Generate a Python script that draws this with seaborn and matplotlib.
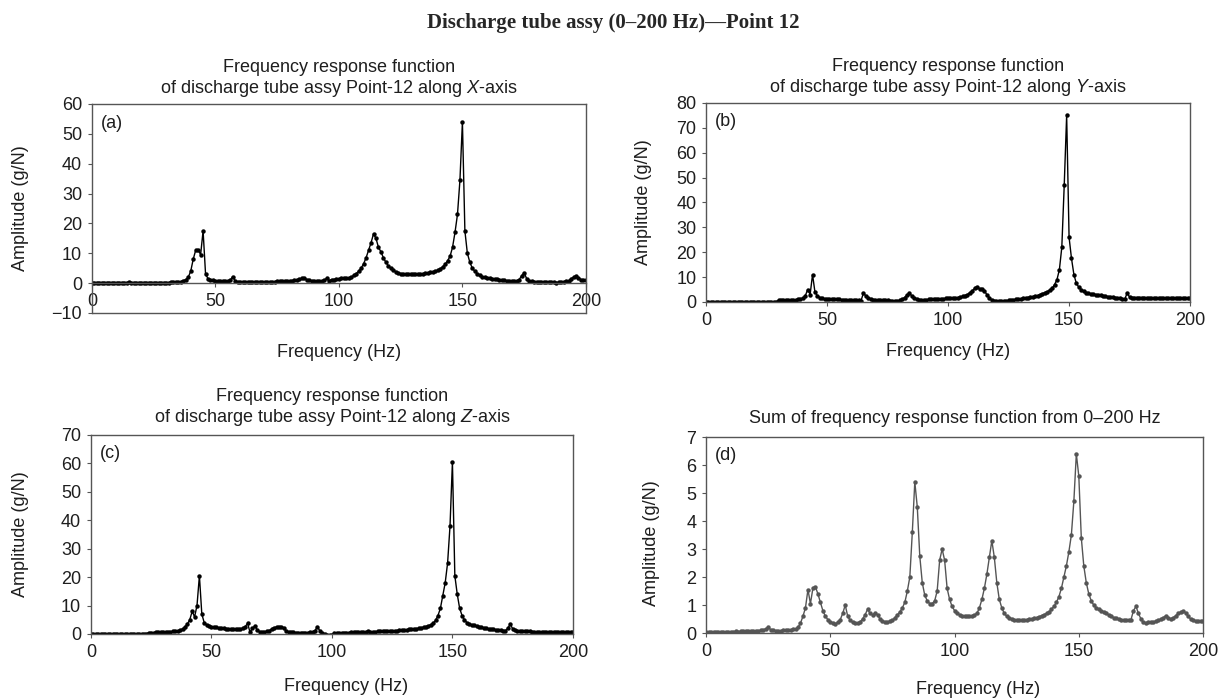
import numpy as np
import matplotlib
matplotlib.use("Agg")
import matplotlib.pyplot as plt
import seaborn as sns

# frequency axis (Hz), 1 Hz steps
freq = list(range(0, 201))

# (a) X-axis response, g/N
amp_x = [
    0.2, 0.2, 0.2, 0.2, 0.2, 0.2, 0.2, 0.2, 0.2, 0.2,
    0.2, 0.2, 0.2, 0.2, 0.2, 0.3, 0.2, 0.2, 0.2, 0.2,
    0.2, 0.2, 0.2, 0.2, 0.2, 0.2, 0.2, 0.2, 0.2, 0.2,
    0.2, 0.2, 0.3, 0.3, 0.3, 0.4, 0.5, 0.8, 1.2, 2.0,
    4.0, 8.0, 11.0, 11.2, 9.5, 17.5, 3.0, 1.5, 1.2, 1.0,
    0.8, 0.6, 0.6, 0.6, 0.6, 0.6, 1.0, 2.2, 0.8, 0.4,
    0.3, 0.3, 0.3, 0.3, 0.3, 0.4, 0.5, 0.5, 0.5, 0.4,
    0.3, 0.3, 0.4, 0.5, 0.5, 0.6, 0.6, 0.7, 0.7, 0.8,
    0.8, 0.8, 0.9, 1.0, 1.3, 1.6, 1.8, 1.2, 0.9, 0.8,
    0.8, 0.8, 0.8, 0.8, 0.9, 1.6, 0.8, 1.2, 1.2, 1.3,
    1.4, 1.6, 1.6, 1.7, 1.8, 2.0, 2.6, 3.2, 4.0, 5.0,
    6.5, 8.5, 11.0, 13.5, 16.5, 15.0, 12.0, 10.5, 8.5, 7.0,
    5.8, 5.0, 4.3, 3.8, 3.5, 3.2, 3.1, 3.0, 3.0, 3.0,
    3.0, 3.0, 3.1, 3.1, 3.2, 3.3, 3.4, 3.6, 3.8, 4.0,
    4.3, 4.8, 5.5, 6.3, 7.5, 9.0, 12.0, 17.0, 23.0, 34.5,
    54.0, 17.5, 10.0, 7.0, 5.0, 4.0, 3.2, 2.6, 2.2, 2.0,
    1.8, 1.7, 1.5, 1.4, 1.3, 1.2, 1.0, 0.9, 0.8, 0.7,
    0.6, 0.6, 0.7, 1.2, 2.5, 3.5, 1.5, 0.8, 0.6, 0.5,
    0.5, 0.4, 0.4, 0.4, 0.3, 0.3, 0.3, 0.3, 0.2, 0.3,
    0.4, 0.5, 0.6, 0.8, 1.5, 2.0, 2.3, 1.8, 1.2, 1.0,
    0.9,
]

# (b) Y-axis response, g/N
amp_y = [
    0.1, 0.1, 0.1, 0.1, 0.1, 0.1, 0.1, 0.1, 0.1, 0.1,
    0.1, 0.1, 0.1, 0.1, 0.1, 0.1, 0.1, 0.1, 0.1, 0.1,
    0.1, 0.1, 0.1, 0.1, 0.1, 0.1, 0.1, 0.1, 0.1, 0.1,
    0.8, 0.8, 0.8, 0.8, 0.8, 0.8, 0.9, 0.9, 1.0, 1.2,
    1.5, 2.5, 5.0, 3.0, 11.0, 4.0, 2.5, 1.8, 1.4, 1.2,
    1.2, 1.2, 1.2, 1.2, 1.2, 1.1, 0.9, 0.8, 0.8, 0.8,
    0.8, 0.8, 0.8, 0.6, 0.4, 3.5, 2.5, 1.8, 1.0, 0.7,
    0.6, 0.6, 0.6, 0.6, 0.6, 0.6, 0.5, 0.5, 0.4, 0.2,
    0.6, 1.0, 1.8, 2.8, 3.5, 2.5, 1.5, 1.0, 0.9, 0.9,
    0.9, 0.9, 1.0, 1.1, 1.2, 1.3, 1.3, 1.3, 1.3, 1.4,
    1.4, 1.6, 1.6, 1.7, 1.8, 2.0, 2.3, 2.6, 3.0, 3.8,
    4.5, 5.5, 6.2, 5.2, 5.4, 4.5, 3.0, 1.8, 0.8, 0.3,
    0.3, 0.3, 0.3, 0.4, 0.5, 0.6, 0.8, 0.9, 1.0, 1.2,
    1.3, 1.4, 1.6, 1.8, 2.0, 2.2, 2.4, 2.6, 3.0, 3.4,
    3.8, 4.2, 4.8, 5.5, 7.0, 9.0, 13.0, 22.0, 47.0, 75.0,
    26.0, 17.5, 11.0, 7.5, 6.0, 5.0, 4.3, 3.8, 3.5, 3.3,
    3.1, 3.0, 2.8, 2.7, 2.5, 2.3, 2.2, 2.0, 1.9, 1.8,
    1.6, 1.4, 1.3, 1.2, 3.5, 2.0, 1.8, 1.8, 1.8, 1.8,
    1.8, 1.8, 1.7, 1.5, 1.5, 1.5, 1.5, 1.5, 1.5, 1.5,
    1.5, 1.5, 1.5, 1.5, 1.5, 1.5, 1.5, 1.5, 1.5, 1.5,
    1.5,
]

# (c) Z-axis response, g/N
amp_z = [
    0.1, 0.1, 0.1, 0.1, 0.1, 0.1, 0.1, 0.1, 0.1, 0.1,
    0.1, 0.1, 0.1, 0.1, 0.1, 0.1, 0.1, 0.1, 0.1, 0.1,
    0.1, 0.1, 0.1, 0.1, 0.5, 0.5, 0.5, 0.6, 0.6, 0.6,
    0.7, 0.7, 0.8, 0.8, 0.9, 1.0, 1.1, 1.3, 1.8, 2.5,
    3.5, 5.0, 8.0, 6.0, 10.0, 20.5, 7.0, 4.0, 3.2, 2.8,
    2.6, 2.4, 2.3, 2.2, 2.1, 2.0, 1.8, 1.7, 1.7, 1.6,
    1.6, 1.7, 1.8, 2.0, 2.5, 3.8, 0.6, 2.0, 2.8, 1.5,
    0.8, 0.8, 0.8, 0.9, 1.2, 1.8, 2.2, 2.5, 2.6, 2.6,
    2.2, 1.0, 0.6, 0.6, 0.6, 0.5, 0.5, 0.5, 0.5, 0.5,
    0.5, 0.6, 0.8, 1.2, 2.6, 1.0, 0.3, 0.1, -0.3, -0.3,
    -0.2, 0.2, 0.3, 0.4, 0.4, 0.5, 0.5, 0.5, 0.6, 0.6,
    0.6, 0.7, 0.7, 0.8, 0.8, 0.9, 0.8, 0.8, 0.8, 0.9,
    0.9, 1.0, 0.9, 0.9, 1.0, 1.0, 1.1, 1.2, 1.3, 1.4,
    1.5, 1.5, 1.6, 1.7, 1.8, 1.9, 2.0, 2.2, 2.4, 2.6,
    2.9, 3.3, 3.8, 4.8, 6.5, 9.0, 13.5, 18.0, 25.0, 38.0,
    60.5, 20.5, 14.0, 9.0, 6.5, 5.0, 4.0, 3.5, 3.2, 3.0,
    2.8, 2.6, 2.4, 2.2, 2.0, 1.8, 1.7, 1.6, 1.5, 1.4,
    1.3, 1.2, 1.2, 2.0, 3.5, 1.8, 1.3, 1.2, 1.1, 1.0,
    1.0, 0.9, 0.9, 0.8, 0.8, 0.8, 0.7, 0.7, 0.6, 0.6,
    0.6, 0.6, 0.6, 0.6, 0.6, 0.6, 0.6, 0.6, 0.6, 0.6,
    0.6,
]

# (d) sum of FRFs, g/N
amp_sum = [
    0.05, 0.04, 0.03, 0.05, 0.03, 0.02, 0.05, 0.04, 0.03, 0.02,
    0.04, 0.05, 0.06, 0.05, 0.06, 0.07, 0.06, 0.08, 0.07, 0.06,
    0.07, 0.08, 0.09, 0.10, 0.15, 0.20, 0.12, 0.10, 0.08, 0.08,
    0.08, 0.09, 0.10, 0.10, 0.12, 0.13, 0.15, 0.20, 0.35, 0.60,
    0.90, 1.55, 1.05, 1.60, 1.65, 1.40, 1.10, 0.80, 0.60, 0.48,
    0.40, 0.35, 0.33, 0.38, 0.48, 0.70, 1.00, 0.60, 0.45, 0.38,
    0.35, 0.35, 0.40, 0.50, 0.65, 0.85, 0.70, 0.65, 0.70, 0.65,
    0.50, 0.42, 0.40, 0.40, 0.42, 0.45, 0.55, 0.65, 0.75, 0.90,
    1.10, 1.50, 2.00, 3.60, 5.40, 4.50, 2.75, 1.80, 1.35, 1.15,
    1.05, 1.05, 1.15, 1.50, 2.60, 3.00, 2.60, 1.60, 1.20, 0.95,
    0.80, 0.70, 0.65, 0.62, 0.60, 0.60, 0.60, 0.62, 0.65, 0.70,
    0.90, 1.20, 1.60, 2.10, 2.70, 3.30, 2.70, 1.80, 1.20, 0.90,
    0.70, 0.60, 0.55, 0.50, 0.48, 0.47, 0.46, 0.46, 0.47, 0.48,
    0.50, 0.50, 0.52, 0.55, 0.58, 0.62, 0.66, 0.70, 0.75, 0.85,
    0.95, 1.10, 1.30, 1.60, 2.00, 2.40, 2.90, 3.50, 4.70, 6.40,
    5.60, 3.40, 2.40, 1.80, 1.40, 1.15, 1.00, 0.90, 0.85, 0.80,
    0.75, 0.70, 0.65, 0.60, 0.55, 0.52, 0.50, 0.48, 0.46, 0.45,
    0.45, 0.48, 0.80, 0.95, 0.70, 0.50, 0.38, 0.36, 0.38, 0.40,
    0.40, 0.42, 0.45, 0.50, 0.55, 0.62, 0.55, 0.50, 0.55, 0.62,
    0.70, 0.75, 0.78, 0.72, 0.60, 0.50, 0.45, 0.42, 0.42, 0.42,
    0.42,
]

sns.set_theme(style="ticks")
plt.rcParams["font.family"] = ["Liberation Sans", "DejaVu Sans"]
plt.rcParams["mathtext.fontset"] = "custom"
plt.rcParams["mathtext.it"] = "Liberation Sans:italic"
plt.rcParams["mathtext.rm"] = "Liberation Sans"

fig = plt.figure(figsize=(12.26, 7), dpi=100)

spine_col = "#555555"
txt_col = "#1e1e1e"
fs = 13

# rect, ylim, ystep, title, pad, tag, ylabel x/y, xlabel x/y, data, colour
panels = [
    ([0.0750, 0.5529, 0.4029, 0.2986], (-10, 60), 10,
     "Frequency response function\nof discharge tube assy Point-12 along $\\mathit{X}$-axis", 8,
     "(a)", -0.128, 0.5, 0.5, -0.150, amp_x, "black"),
    ([0.5759, 0.5686, 0.3948, 0.2843], (0, 80), 10,
     "Frequency response function\nof discharge tube assy Point-12 along $\\mathit{Y}$-axis", 8,
     "(b)", -0.112, 0.5, 0.5, -0.206, amp_y, "black"),
    ([0.0742, 0.0943, 0.3931, 0.2843], (0, 70), 10,
     "Frequency response function\nof discharge tube assy Point-12 along $\\mathit{Z}$-axis", 9,
     "(c)", -0.129, 0.5, 0.53, -0.221, amp_z, "black"),
    ([0.5759, 0.0957, 0.4054, 0.2800], (0, 7), 1,
     "Sum of frequency response function from 0\u2013200 Hz", 10,
     "(d)", -0.093, 0.46, 0.547, -0.245, amp_sum, "#555555"),
]

for rect, ylim, ystep, title, pad, tag, ylx, yly, xlx, xly, vals, col in panels:
    ax = fig.add_axes(rect)
    sns.lineplot(x=freq, y=vals, ax=ax, color=col, linewidth=1.0,
                 marker="o", markersize=3.2, markeredgewidth=0, markerfacecolor=col)
    ax.set_xlim(0, 200)
    ax.set_ylim(*ylim)
    ax.set_xticks(range(0, 201, 50))
    yt = np.arange(ylim[0], ylim[1] + ystep / 2, ystep)
    ax.set_yticks(yt)
    ax.set_yticklabels([str(int(v)).replace("-", "\u2212") for v in yt])
    for s in ax.spines.values():
        s.set_visible(True)
        s.set_color(spine_col)
        s.set_linewidth(1.0)
    ax.tick_params(axis="both", labelsize=fs, length=3, width=0.8, color=spine_col,
                   colors=txt_col, pad=4)
    ax.set_title(title, fontsize=fs, pad=pad, linespacing=1.15, color=txt_col)
    ax.set_xlabel("Frequency (Hz)", fontsize=fs, color=txt_col)
    ax.set_ylabel("Amplitude (g/N)", fontsize=fs, color=txt_col)
    ax.xaxis.set_label_coords(xlx, xly)
    ax.yaxis.set_label_coords(ylx, yly)
    ax.text(0.018, 0.905, tag, transform=ax.transAxes, ha="left", va="center",
            fontsize=fs, color=txt_col)
    if ylim[0] < 0:
        # category axis crosses at zero, box still closes at -10
        ax.spines["bottom"].set_position(("data", 0))
        ax.axhline(ylim[0], color=spine_col, linewidth=1.0, clip_on=False)

fig.text(0.5, 1 - 23 / 700, "Discharge tube assy (0\u2013200 Hz)\u2014Point 12",
         ha="center", va="center", fontsize=15, fontweight="bold",
         family=["Liberation Serif", "DejaVu Serif"])

fig.savefig("out.png", dpi=100)
